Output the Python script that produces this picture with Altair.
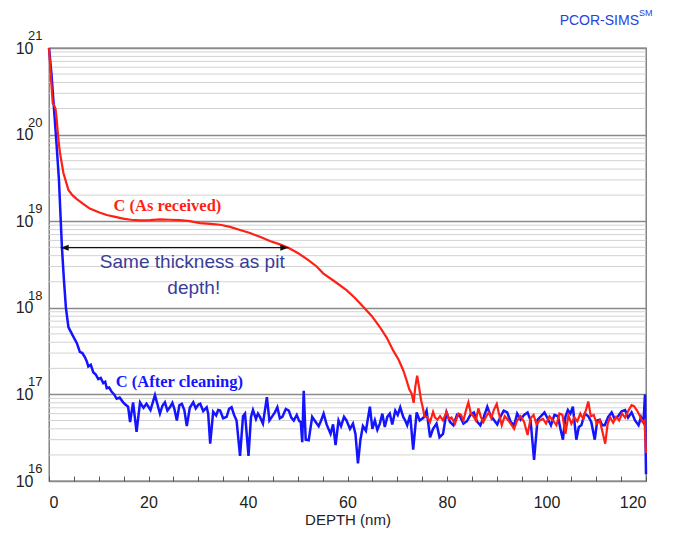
import altair as alt
import pandas as pd

# ---------------- data ----------------
blue_points = [
    (0.0, 1.0e21), (0.5, 5.0e20), (1.0, 2.0e20), (1.5, 8.0e19), (2.0, 3.0e19),
    (2.4, 9.0e18), (2.6, 5.0e18), (3.0, 2.1e18), (3.4, 1.0e18), (3.9, 6.0e17),
    (4.6, 5.0e17), (5.2, 4.3e17), (5.6, 3.9e17), (6.2, 3.1e17), (6.7, 3.0e17),
    (7.2, 2.7e17), (7.6, 2.4e17), (7.9, 2.1e17), (8.4, 2.2e17), (8.9, 1.8e17),
    (9.4, 1.7e17), (9.9, 1.5e17), (10.4, 1.55e17), (10.9, 1.35e17), (11.3, 1.4e17),
    (11.6, 1.18e17), (12.1, 1.2e17), (12.6, 1.07e17), (13.1, 1.0e17), (13.6, 8.9e16),
    (14.2, 9.2e16), (14.9, 8.1e16), (15.4, 7.6e16), (15.9, 7.2e16), (16.3, 4.8e16),
    (16.9, 8.1e16), (17.6, 3.7e16), (18.3, 8.1e16), (19.0, 7.0e16), (19.6, 7.8e16),
    (20.4, 6.6e16), (21.3, 9.8e16), (22.3, 6.0e16), (22.8, 7.4e16), (23.3, 8.1e16),
    (23.8, 6.5e16), (24.3, 7.1e16), (24.8, 8.0e16), (25.2, 6.8e16), (25.7, 5.0e16),
    (26.2, 7.5e16), (26.7, 7.8e16), (27.2, 6.6e16), (27.7, 4.3e16), (28.3, 7.0e16),
    (29.0, 8.1e16), (29.5, 6.9e16), (30.0, 7.6e16), (30.4, 7.8e16), (31.0, 6.4e16),
    (31.7, 7.1e16), (32.0, 6.0e16), (32.4, 2.7e16), (33.0, 6.3e16), (33.6, 5.7e16),
    (34.0, 6.6e16), (34.4, 6.5e16), (35.0, 5.3e16), (35.7, 5.5e16), (36.2, 6.8e16),
    (36.7, 7.1e16), (37.2, 5.8e16), (37.7, 5.0e16), (38.4, 1.95e16), (39.0, 5.6e16),
    (39.4, 6.0e16), (40.1, 1.95e16), (40.6, 5.5e16), (41.0, 6.6e16), (41.6, 5.2e16),
    (42.0, 6.0e16), (42.4, 5.5e16), (43.0, 4.6e16), (43.8, 9.3e16), (44.3, 5.0e16),
    (44.8, 5.5e16), (45.4, 6.2e16), (45.9, 7.1e16), (46.4, 5.3e16), (46.9, 5.5e16),
    (47.6, 6.8e16), (48.2, 6.5e16), (48.7, 5.4e16), (49.2, 5.0e16), (49.8, 5.8e16),
    (50.3, 4.9e16), (50.6, 4.8e16), (50.9, 2.8e16), (51.2, 1.1e17), (51.6, 3.0e16),
    (52.2, 2.95e16), (52.9, 5.5e16), (53.5, 4.9e16), (54.2, 4.3e16), (54.7, 5.0e16),
    (55.2, 6.0e16), (55.8, 4.5e16), (56.6, 3.5e16), (57.1, 4.5e16), (57.6, 2.6e16),
    (58.2, 5.0e16), (58.7, 4.3e16), (59.3, 5.5e16), (59.8, 5.0e16), (60.5, 4.0e16),
    (61.1, 4.6e16), (61.6, 3.5e16), (62.1, 1.6e16), (62.6, 3.0e16), (63.1, 4.3e16),
    (63.7, 3.8e16), (64.5, 7.2e16), (65.0, 4.0e16), (65.5, 5.0e16), (66.0, 3.9e16),
    (66.5, 4.6e16), (67.0, 6.0e16), (67.5, 4.2e16), (68.0, 5.5e16), (68.5, 6.0e16),
    (69.0, 4.5e16), (69.6, 6.5e16), (70.1, 5.8e16), (70.6, 7.1e16), (71.2, 5.5e16),
    (71.6, 5.0e16), (72.0, 4.4e16), (72.6, 5.8e16), (73.2, 2.3e16), (73.9, 6.2e16),
    (74.5, 5.0e16), (75.3, 5.4e16), (75.9, 6.5e16), (76.6, 3.2e16), (77.2, 4.0e16),
    (77.9, 4.6e16), (78.5, 3.2e16), (79.2, 3.5e16), (79.9, 6.2e16), (80.6, 4.8e16),
    (81.3, 4.4e16), (82.0, 5.8e16), (82.6, 5.6e16), (83.3, 4.6e16), (84.0, 4.9e16),
    (84.7, 5.8e16), (85.4, 6.2e16), (86.0, 4.9e16), (86.7, 4.4e16), (87.4, 5.5e16),
    (88.1, 7.2e16), (88.7, 5.8e16), (89.4, 5.1e16), (90.1, 4.5e16), (90.8, 5.6e16),
    (91.4, 6.5e16), (92.1, 6.2e16), (92.8, 4.8e16), (93.5, 4.4e16), (94.1, 6.0e16),
    (94.8, 5.1e16), (95.5, 5.8e16), (96.2, 6.2e16), (96.8, 5.0e16), (97.5, 1.75e16),
    (98.2, 5.1e16), (98.9, 5.6e16), (99.6, 6.2e16), (100.2, 5.3e16), (100.9, 4.4e16),
    (101.6, 5.8e16), (102.3, 5.6e16), (102.8, 4.0e16), (103.3, 3.0e16), (103.8, 5.5e16),
    (104.3, 6.6e16), (104.8, 6.0e16), (105.3, 7.2e16), (106.0, 3.0e16), (106.5, 4.2e16),
    (107.0, 4.4e16), (107.7, 6.0e16), (108.4, 5.6e16), (109.0, 4.8e16), (109.7, 3.0e16),
    (110.2, 5.0e16), (110.7, 5.1e16), (111.2, 4.4e16), (111.7, 4.4e16), (112.4, 5.5e16),
    (113.1, 6.2e16), (113.7, 5.2e16), (114.4, 5.6e16), (115.1, 6.4e16), (115.8, 6.6e16),
    (116.4, 5.4e16), (117.1, 6.2e16), (117.8, 5.0e16), (118.5, 4.4e16), (119.0, 5.5e16),
    (119.5, 4.8e16), (119.8, 1.0e17), (120.0, 1.2e16),
]

red_points = [
    (0.0, 1.0e21), (0.4, 4.5e20), (0.75, 2.3e20), (1.0, 2.2e20), (1.3, 2.0e20),
    (1.5, 1.6e20), (1.9, 8.7e19), (2.2, 6.2e19), (2.9, 3.6e19), (3.9, 2.3e19),
    (4.7, 2.0e19), (5.6, 1.8e19), (6.8, 1.6e19), (8.2, 1.4e19), (10.0, 1.27e19),
    (11.6, 1.18e19), (13.3, 1.12e19), (14.9, 1.07e19), (16.5, 1.04e19), (18.3, 1.02e19),
    (20.3, 1.03e19), (22.3, 1.05e19), (24.3, 1.04e19), (26.3, 1.03e19), (28.3, 1.0e19),
    (30.4, 9.5e18), (32.4, 9.3e18), (34.4, 9.1e18), (36.4, 8.6e18), (38.4, 7.9e18),
    (40.4, 7.3e18), (42.4, 6.6e18), (44.4, 5.9e18), (46.4, 5.4e18), (48.2, 4.9e18),
    (50.0, 4.3e18), (52.0, 3.6e18), (53.8, 3.0e18), (55.1, 2.5e18), (57.5, 2.0e18),
    (59.8, 1.6e18), (61.5, 1.3e18), (63.2, 1.02e18), (64.9, 8.0e17), (66.5, 6.0e17),
    (67.9, 4.5e17), (69.2, 3.2e17), (70.3, 2.5e17), (71.2, 1.9e17), (71.8, 1.5e17),
    (72.4, 1.15e17), (72.9, 1.02e17), (73.3, 8.0e16), (73.6, 1.2e17), (74.0, 1.65e17),
    (74.4, 1.2e17), (74.8, 8.5e16), (75.1, 7.2e16), (75.5, 5.5e16), (76.0, 5.5e16),
    (76.6, 4.8e16), (77.2, 6.3e16), (77.6, 5.4e16), (78.1, 5.1e16), (78.6, 5.6e16),
    (79.2, 5.0e16), (79.9, 6.3e16), (80.4, 5.2e16), (80.9, 5.4e16), (81.6, 4.6e16),
    (82.3, 6.0e16), (82.8, 5.8e16), (83.3, 5.0e16), (83.8, 6.5e16), (84.3, 8.1e16),
    (84.8, 6.0e16), (85.3, 5.6e16), (85.8, 5.0e16), (86.3, 6.9e16), (86.8, 5.5e16),
    (87.3, 4.8e16), (87.9, 5.6e16), (88.4, 6.2e16), (88.9, 5.3e16), (89.4, 6.6e16),
    (90.0, 7.8e16), (90.5, 5.8e16), (91.0, 4.4e16), (91.6, 5.6e16), (92.1, 5.2e16),
    (92.8, 4.6e16), (93.5, 4.0e16), (94.1, 5.0e16), (94.8, 5.6e16), (95.5, 4.8e16),
    (96.2, 3.4e16), (96.8, 5.3e16), (97.4, 5.8e16), (98.0, 4.5e16), (98.6, 5.0e16),
    (99.3, 5.2e16), (99.9, 4.6e16), (100.6, 5.6e16), (101.3, 5.0e16), (102.0, 4.4e16),
    (102.6, 6.0e16), (103.2, 5.8e16), (103.8, 3.5e16), (104.4, 5.7e16), (105.0, 4.6e16),
    (105.6, 5.4e16), (106.2, 4.9e16), (106.8, 6.0e16), (107.4, 5.2e16), (108.0, 6.8e16),
    (108.4, 8.3e16), (108.9, 5.6e16), (109.5, 5.8e16), (110.1, 4.6e16), (110.7, 5.0e16),
    (111.2, 3.8e16), (111.8, 2.7e16), (112.3, 4.6e16), (112.8, 5.4e16), (113.4, 4.7e16),
    (114.0, 5.5e16), (114.6, 5.0e16), (115.2, 6.0e16), (115.8, 5.4e16), (116.4, 6.4e16),
    (117.1, 7.5e16), (117.6, 7.3e16), (118.2, 6.5e16), (118.8, 5.6e16), (119.3, 4.8e16),
    (119.7, 5.0e16), (120.0, 2.1e16),
]

series_labels = ["C (As received)", "C (After cleaning)"]
series_label_depth = [23.8, 26.2]
series_label_conc = [1.30e19, 1.23e17]
series_colors = ["#ff1f14", "#1414ff"]

arrow_depth = [2.35, 48.1]
arrow_conc = 4.95e18

note_lines = ["Same thickness as pit", "depth!"]
note_depth = [28.8, 29.1]
note_conc = [2.88e18, 1.46e18]

brand_text = ["PCOR-SIMS"]
brand_sup = ["SM"]

x_tick_values = list(range(0, 121, 5))
y_decades = [1e16, 1e17, 1e18, 1e19, 1e20, 1e21]
y_exponents = ["16", "17", "18", "19", "20", "21"]
y_minor = [m * 10.0 ** e for e in range(16, 21) for m in range(2, 10)]

# ---------------- frames ----------------
blue_df = pd.DataFrame(blue_points, columns=["depth", "conc"])
red_df = pd.DataFrame(red_points, columns=["depth", "conc"])
minor_df = pd.DataFrame({"conc": y_minor})
exp_df = pd.DataFrame({"conc": y_decades, "txt": y_exponents})
arrow_df = pd.DataFrame({"depth": [arrow_depth[0]], "depth2": [arrow_depth[1]],
                         "conc": [arrow_conc]})
head_df = pd.DataFrame({
    "depth": arrow_depth,
    "conc": [arrow_conc, arrow_conc],
    "shape": ["M0,0L2,-0.75L2,0.75Z", "M0,0L-2,-0.75L-2,0.75Z"],
})
note_df = pd.DataFrame({"depth": note_depth, "conc": note_conc, "txt": note_lines})
lab_df = pd.DataFrame({"depth": series_label_depth, "conc": series_label_conc,
                       "txt": series_labels, "col": series_colors})
brand_df = pd.DataFrame({"txt": brand_text})
sup_df = pd.DataFrame({"txt": brand_sup})

# ---------------- scales & axes ----------------
SANS = "Liberation Sans"
SERIF = "Liberation Serif"
BRAND = "#2244dd"

xscale = alt.Scale(domain=[0, 120], nice=False, zero=False)
yscale = alt.Scale(type="log", domain=[1e16, 1e21], nice=False)

xaxis = alt.Axis(
    title="DEPTH (nm)", values=x_tick_values, grid=False, domain=False,
    labelExpr="datum.value % 20 === 0 ? datum.label : ''",
    offset=-5, tickSize=5, tickColor="#555555", tickWidth=1,
    labelPadding=13, labelFont=SANS, labelFontSize=16, labelColor="#222222",
    titleFont=SANS, titleFontSize=15, titleFontWeight="normal", titleColor="#222222",
    titlePadding=2,
)
yaxis = alt.Axis(
    title=None, values=y_decades, grid=True, gridColor="#8a8a8a", gridWidth=1.3,
    domain=False, ticks=False, labelExpr="'10'", labelPadding=16,
    labelFont=SANS, labelFontSize=16, labelColor="#222222", labelBaseline="middle",
)

X = alt.X("depth:Q", scale=xscale, axis=xaxis)
Y = alt.Y("conc:Q", scale=yscale, axis=yaxis)

minor = alt.Chart(minor_df).mark_rule(color="#d2d2d2", strokeWidth=1).encode(y=Y)

exps = alt.Chart(exp_df).mark_text(font=SANS, fontSize=13, color="#222222",
                                   align="left", baseline="alphabetic", dy=-8).encode(
    x=alt.value(-21), y=Y, text="txt:N")

blue = alt.Chart(blue_df).mark_line(color=series_colors[1], strokeWidth=2.5).encode(x=X, y=Y)
red = alt.Chart(red_df).mark_line(color=series_colors[0], strokeWidth=2.2).encode(x=X, y=Y)

arrow = alt.Chart(arrow_df).mark_rule(color="#111111", strokeWidth=1.3).encode(
    x=X, x2="depth2:Q", y=Y)
heads = alt.Chart(head_df).mark_point(filled=True, size=64, color="#111111",
                                      opacity=1, strokeWidth=0).encode(
    x=X, y=Y, shape=alt.Shape("shape:N", scale=None))

notes = alt.Chart(note_df).mark_text(font=SANS, fontSize=19, color="#3a3d98",
                                     baseline="alphabetic", align="center").encode(
    x=X, y=Y, text="txt:N")

labels = alt.Chart(lab_df).mark_text(font=SERIF, fontSize=16.5, fontWeight="bold",
                                     baseline="alphabetic", align="center").encode(
    x=X, y=Y, text="txt:N", color=alt.Color("col:N", scale=None))

# brand mark above the plot's top-right corner
brand = alt.Chart(brand_df).mark_text(font=SANS, fontSize=14, color=BRAND,
                                      align="right", baseline="alphabetic").encode(
    x=alt.value(590), y=alt.value(-23), text="txt:N")
brand_sm = alt.Chart(sup_df).mark_text(font=SANS, fontSize=9, color=BRAND,
                                       align="left", baseline="alphabetic").encode(
    x=alt.value(590), y=alt.value(-32), text="txt:N")

chart = alt.layer(minor, exps, blue, red, arrow, heads, notes, labels,
                  brand, brand_sm).properties(
    width=597, height=433,
    autosize=alt.AutoSizeParams(type="none"),
    padding={"left": 41, "top": 40, "right": 24, "bottom": 50},
).configure_view(stroke="#707070", strokeWidth=1.3)

chart.save("out.html", embed_options={"renderer": "svg", "actions": False})
